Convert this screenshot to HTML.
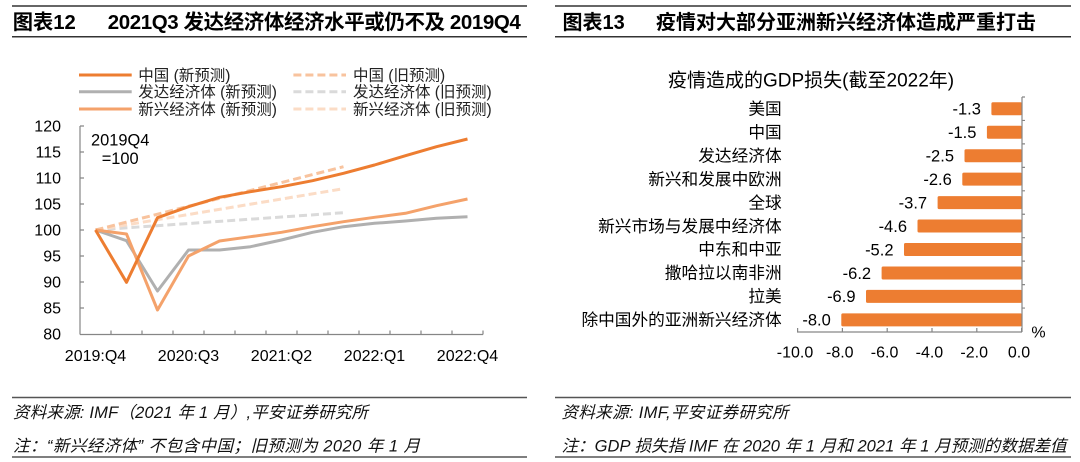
<!DOCTYPE html>
<html><head><meta charset="utf-8">
<style>
html,body{margin:0;padding:0;background:#fff;}
svg{display:block;}
text{font-family:"Liberation Sans","Noto Sans CJK SC",sans-serif;fill:#000;}
.t{font-size:20px;font-weight:bold;}
.ax{font-size:16px;}
.cat{font-size:16.7px;}
.lg{font-size:15.5px;fill:#222;}
.ft{font-size:16.5px;font-style:italic;fill:#111;}
</style></head>
<body>
<svg width="1080" height="462" viewBox="0 0 1080 462" xmlns="http://www.w3.org/2000/svg">
<rect width="1080" height="462" fill="#fff"/>
<!-- ===== LEFT HEADER ===== -->
<line x1="12" y1="6" x2="527" y2="6" stroke="#333" stroke-width="1.5"/>
<line x1="12" y1="36.7" x2="527" y2="36.7" stroke="#333" stroke-width="1.5"/>
<text class="t" x="12.7" y="28.8" style="font-size:20.3px">图表12</text>
<text class="t" x="107.8" y="28.8" style="font-size:20.5px" textLength="413" lengthAdjust="spacing">2021Q3 发达经济体经济水平或仍不及 2019Q4</text>

<!-- legend -->
<g stroke-width="3">
<line x1="79" y1="75" x2="131.7" y2="75" stroke="#ED7D31"/>
<line x1="79" y1="91.7" x2="131.7" y2="91.7" stroke="#B0B0B0"/>
<line x1="79" y1="109" x2="131.7" y2="109" stroke="#F4A26B"/>
<line x1="293.4" y1="75" x2="346" y2="75" stroke="#F8C39E" stroke-dasharray="8 4"/>
<line x1="293.4" y1="91.7" x2="346" y2="91.7" stroke="#DADADA" stroke-dasharray="8 4"/>
<line x1="293.4" y1="109" x2="346" y2="109" stroke="#FBDCC6" stroke-dasharray="8 4"/>
</g>
<text class="lg" x="138.3" y="80.5">中国 (新预测)</text>
<text class="lg" x="138.3" y="97.2">发达经济体 (新预测)</text>
<text class="lg" x="138.3" y="114.5">新兴经济体 (新预测)</text>
<text class="lg" x="353" y="80.5">中国 (旧预测)</text>
<text class="lg" x="353" y="97.2">发达经济体 (旧预测)</text>
<text class="lg" x="353" y="114.5">新兴经济体 (旧预测)</text>

<!-- axes -->
<g stroke="#868686" stroke-width="1.2" fill="none">
<line x1="80" y1="126" x2="80" y2="334.5"/>
<line x1="80" y1="334.5" x2="483" y2="334.5"/>
<path d="M80 126h4M80 152h4M80 178h4M80 204h4M80 230h4M80 256h4M80 282h4M80 308h4"/>
<path d="M111 334.5v-4M142 334.5v-4M173 334.5v-4M204 334.5v-4M235 334.5v-4M266 334.5v-4M297 334.5v-4M328 334.5v-4M359 334.5v-4M390 334.5v-4M421 334.5v-4M452 334.5v-4M483 334.5v-4"/>
</g>
<g class="ax" text-anchor="end">
<text x="61" y="131.7">120</text>
<text x="61" y="157.7">115</text>
<text x="61" y="183.7">110</text>
<text x="61" y="209.7">105</text>
<text x="61" y="235.7">100</text>
<text x="61" y="261.7">95</text>
<text x="61" y="287.7">90</text>
<text x="61" y="313.7">85</text>
<text x="61" y="339.7">80</text>
</g>
<g class="ax" text-anchor="middle">
<text x="95.5" y="361">2019:Q4</text>
<text x="188.5" y="361">2020:Q3</text>
<text x="281.5" y="361">2021:Q2</text>
<text x="374.5" y="361">2022:Q1</text>
<text x="467.5" y="361">2022:Q4</text>
</g>
<text x="91" y="145.3" style="font-size:16.4px">2019Q4</text>
<text x="101.7" y="164" style="font-size:16.4px">=100</text>

<!-- old forecasts (dashed) -->
<g fill="none" stroke-width="3" stroke-dasharray="8 4">
<polyline points="95.5,230 343.5,212.7" stroke="#DADADA"/>
<polyline points="95.5,230 343.5,188.7" stroke="#FBDCC6"/>
<polyline points="95.5,230 343.5,166.7" stroke="#F8C39E"/>
</g>
<!-- new forecasts -->
<g fill="none" stroke-width="3" stroke-linejoin="round">
<polyline stroke="#B0B0B0" points="95.5,230 126.5,240.7 157.5,291 188.5,250 219.5,250 250.5,246.7 281.5,240 312.5,232.3 343.5,226.7 374.5,223.3 405.5,221 436.5,218.3 467.5,216.7"/>
<polyline stroke="#F4A26B" points="95.5,230 126.5,234 157.5,310 188.5,256 219.5,241 250.5,236.7 281.5,232.3 312.5,226.7 343.5,221.7 374.5,217.3 405.5,213.3 436.5,205.7 467.5,199"/>
<polyline stroke="#ED7D31" points="95.5,230 126.5,282.3 157.5,217.7 188.5,206.7 219.5,197.3 250.5,191.7 281.5,186.7 312.5,180.7 343.5,173.3 374.5,165 405.5,155.7 436.5,146.7 467.5,139"/>
</g>

<!-- left footer -->
<line x1="12" y1="397.5" x2="527" y2="397.5" stroke="#555" stroke-width="1.5"/>
<line x1="12" y1="457" x2="527" y2="457" stroke="#555" stroke-width="1.5"/>
<text class="ft" x="13" y="417.8" textLength="355" lengthAdjust="spacing">资料来源: IMF（2021 年 1 月）,平安证券研究所</text>
<text class="ft" x="13" y="451.3" textLength="407" lengthAdjust="spacing">注：“新兴经济体” 不包含中国；旧预测为 2020 年 1 月</text>

<!-- ===== RIGHT HEADER ===== -->
<line x1="555" y1="6" x2="1071" y2="6" stroke="#333" stroke-width="1.5"/>
<line x1="555" y1="36.7" x2="1071" y2="36.7" stroke="#333" stroke-width="1.5"/>
<text class="t" x="562.5" y="28.8">图表13</text>
<text class="t" x="656" y="28.8" textLength="380" lengthAdjust="spacing">疫情对大部分亚洲新兴经济体造成严重打击</text>

<text x="668" y="86.5" style="font-size:19px">疫情造成的GDP损失(截至2022年)</text>

<!-- bars -->
<g fill="#ED7D31">
<rect x="991.4" y="102.3" width="30.6" height="13" rx="1.5"/>
<rect x="986.9" y="125.75" width="35.1" height="13" rx="1.5"/>
<rect x="964.5" y="149.2" width="57.5" height="13" rx="1.5"/>
<rect x="962.3" y="172.65" width="59.7" height="13" rx="1.5"/>
<rect x="937.6" y="196.1" width="84.4" height="13" rx="1.5"/>
<rect x="917.5" y="219.55" width="104.5" height="13" rx="1.5"/>
<rect x="904.0" y="243" width="118" height="13" rx="1.5"/>
<rect x="881.6" y="266.45" width="140.4" height="13" rx="1.5"/>
<rect x="866.0" y="289.9" width="156" height="13" rx="1.5"/>
<rect x="841.3" y="313.35" width="180.7" height="13" rx="1.5"/>
</g>
<!-- right axes -->
<g stroke="#868686" stroke-width="1.2" fill="none">
<line x1="1022" y1="97" x2="1022" y2="332"/>
<line x1="797" y1="332" x2="1022" y2="332"/>
<path d="M1022 97h3M1022 120.45h3M1022 143.9h3M1022 167.35h3M1022 190.8h3M1022 214.25h3M1022 237.7h3M1022 261.15h3M1022 284.6h3M1022 308.05h3"/>
<path d="M797.6 332v-4M842.4 332v-4M887.2 332v-4M932 332v-4M976.8 332v-4M1021.6 332v-4"/>
</g>
<g class="cat" text-anchor="end">
<text x="781.7" y="114.5">美国</text>
<text x="781.7" y="137.95">中国</text>
<text x="781.7" y="161.4">发达经济体</text>
<text x="781.7" y="184.85">新兴和发展中欧洲</text>
<text x="781.7" y="208.3">全球</text>
<text x="781.7" y="231.75">新兴市场与发展中经济体</text>
<text x="781.7" y="255.2">中东和中亚</text>
<text x="781.7" y="278.65">撒哈拉以南非洲</text>
<text x="781.7" y="302.1">拉美</text>
<text x="781.7" y="325.55">除中国外的亚洲新兴经济体</text>
</g>
<g text-anchor="end" style="font-size:16.5px">
<text x="980.9" y="114.6">-1.3</text>
<text x="976.4" y="138.05">-1.5</text>
<text x="954" y="161.5">-2.5</text>
<text x="951.8" y="184.95">-2.6</text>
<text x="927.1" y="208.4">-3.7</text>
<text x="907" y="231.85">-4.6</text>
<text x="893.5" y="255.3">-5.2</text>
<text x="871.1" y="278.75">-6.2</text>
<text x="855.5" y="302.2">-6.9</text>
<text x="830.8" y="325.65">-8.0</text>
</g>
<g class="ax" text-anchor="middle">
<text x="795" y="357.4">-10.0</text>
<text x="839.8" y="357.4">-8.0</text>
<text x="884.6" y="357.4">-6.0</text>
<text x="929.4" y="357.4">-4.0</text>
<text x="974.2" y="357.4">-2.0</text>
<text x="1019" y="357.4">0.0</text>
</g>
<text class="ax" x="1038.5" y="337.5" text-anchor="middle">%</text>

<!-- right footer -->
<line x1="555" y1="397.5" x2="1071" y2="397.5" stroke="#555" stroke-width="1.5"/>
<line x1="555" y1="457" x2="1071" y2="457" stroke="#555" stroke-width="1.5"/>
<text class="ft" x="561.5" y="417.8" textLength="227" lengthAdjust="spacing">资料来源: IMF,平安证券研究所</text>
<text class="ft" x="561.5" y="451.3" textLength="505" lengthAdjust="spacing">注：GDP 损失指 IMF 在 2020 年 1 月和 2021 年 1 月预测的数据差值</text>
</svg>
</body></html>
